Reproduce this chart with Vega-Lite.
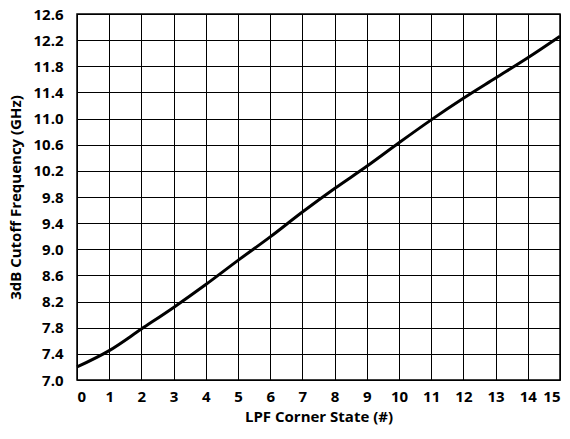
{
  "$schema": "https://vega.github.io/schema/vega-lite/v6.json",
  "width": 483,
  "height": 366,
  "autosize": {"type": "none"},
  "padding": {"left": 77, "top": 14, "right": 10, "bottom": 59},
  "background": "white",
  "config": {
    "view": {"stroke": "black", "strokeWidth": 1.5},
    "font": "Open Sans"
  },
  "data": {
    "values": [
      {"state": 0, "freq": 7.20},
      {"state": 1, "freq": 7.45},
      {"state": 2, "freq": 7.78},
      {"state": 3, "freq": 8.11},
      {"state": 4, "freq": 8.46},
      {"state": 5, "freq": 8.83},
      {"state": 6, "freq": 9.19},
      {"state": 7, "freq": 9.57},
      {"state": 8, "freq": 9.93},
      {"state": 9, "freq": 10.27},
      {"state": 10, "freq": 10.63},
      {"state": 11, "freq": 10.98},
      {"state": 12, "freq": 11.31},
      {"state": 13, "freq": 11.62},
      {"state": 14, "freq": 11.93},
      {"state": 15, "freq": 12.26}
    ]
  },
  "mark": {"type": "line", "color": "black", "strokeWidth": 3, "interpolate": "monotone"},
  "encoding": {
    "x": {
      "field": "state", "type": "quantitative",
      "scale": {"domain": [0, 15], "nice": false},
      "axis": {
        "title": "LPF Corner State (#)",
        "values": [0,1,2,3,4,5,6,7,8,9,10,11,12,13,14,15],
        "format": "d",
        "grid": true, "gridColor": "black", "gridOpacity": 1, "gridWidth": 1,
        "ticks": false, "domain": false,
        "labelFont": "Open Sans", "labelFontWeight": "bold", "labelFontSize": 15, "labelColor": "black",
        "labelPadding": 9,
        "titleFont": "Open Sans", "titleFontWeight": "bold", "titleFontSize": 15, "titleColor": "black",
        "titlePadding": 5
      }
    },
    "y": {
      "field": "freq", "type": "quantitative",
      "scale": {"domain": [7.0, 12.6], "nice": false, "zero": false},
      "axis": {
        "title": "3dB Cutoff Frequency (GHz)",
        "values": [7.0,7.4,7.8,8.2,8.6,9.0,9.4,9.8,10.2,10.6,11.0,11.4,11.8,12.2,12.6],
        "format": ".1f",
        "grid": true, "gridColor": "black", "gridOpacity": 1, "gridWidth": 1,
        "ticks": false, "domain": false,
        "labelFont": "Open Sans", "labelFontWeight": "bold", "labelFontSize": 15, "labelColor": "black",
        "labelPadding": 14,
        "titleFont": "Open Sans", "titleFontWeight": "bold", "titleFontSize": 15, "titleColor": "black",
        "titlePadding": 9
      }
    }
  }
}
